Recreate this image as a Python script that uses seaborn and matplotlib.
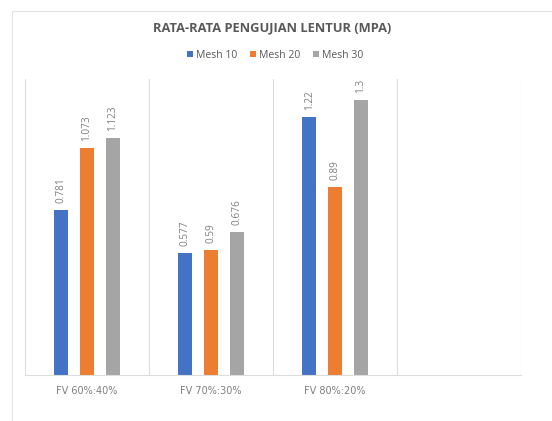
import matplotlib
matplotlib.use("Agg")
import matplotlib.pyplot as plt
from matplotlib.patches import Patch, Rectangle
import seaborn as sns
import pandas as pd

categories = ["FV 60%:40%", "FV 70%:30%", "FV 80%:20%"]
series = ["Mesh 10", "Mesh 20", "Mesh 30"]
mesh10 = [0.781, 0.577, 1.22]
mesh20 = [1.073, 0.59, 0.89]
mesh30 = [1.123, 0.676, 1.3]
label_text = {
    "Mesh 10": ["0.781", "0.577", "1.22"],
    "Mesh 20": ["1.073", "0.59", "0.89"],
    "Mesh 30": ["1.123", "0.676", "1.3"],
}
colors = ["#4472C4", "#ED7D31", "#A5A5A5"]
title = "RATA-RATA PENGUJIAN LENTUR (MPA)"

rows = []
for s, vals in zip(series, [mesh10, mesh20, mesh30]):
    for c, v in zip(categories, vals):
        rows.append({"cat": c, "series": s, "value": v})
df = pd.DataFrame(rows)

sns.set_style("white")
plt.rcParams["font.family"] = ["Open Sans", "DejaVu Sans"]
txt = "#595959"

fig = plt.figure(figsize=(5.52, 4.21), dpi=100)
fig.patch.set_facecolor("white")
# chart area border
fig.add_artist(Rectangle((12 / 552, -0.05), 1.1, 1.05 - 11 / 421,
                         transform=fig.transFigure, fill=False,
                         edgecolor="#E3E3E3", linewidth=0.8))

ax = fig.add_axes([25 / 552, 1 - 375 / 421, (521 - 25) / 552, (375 - 79) / 421])
sns.barplot(data=df, x="cat", y="value", hue="series", order=categories,
            hue_order=series, palette=colors, width=0.62, gap=0.46,
            ax=ax, legend=False, saturation=1, edgecolor="none")

for cont, s in zip(ax.containers, series):
    ax.bar_label(cont, labels=label_text[s], rotation=90, padding=5,
                 fontsize=7.2, color="#7F7F7F")

ax.set_xlim(-0.5, 3.5)
ax.set_ylim(0, 1.4)
ax.set_xlabel("")
ax.set_ylabel("")
ax.set_yticks([])
ax.set_xticks([0, 1, 2])
ax.set_xticklabels(categories, fontsize=7, color="#7F7F7F", family=["DejaVu Sans"])
ax.tick_params(axis="x", length=0, pad=8)
ax.set_xticks([-0.5, 0.5, 1.5, 2.5, 3.5], minor=True)
ax.tick_params(axis="x", which="minor", length=0)
ax.grid(False)
ax.grid(True, which="minor", axis="x", color="#DDDDDD", linewidth=0.8)
for sp in ["top", "left", "right"]:
    ax.spines[sp].set_visible(False)
ax.spines["bottom"].set_color("#DDDDDD")
ax.spines["bottom"].set_linewidth(0.8)

fig.text(272 / 552, 1 - 28 / 421, title, ha="center", va="center",
         fontsize=9.3, fontweight="bold", color=txt)

handles = [Patch(facecolor=c, edgecolor="none", label=s) for c, s in zip(colors, series)]
fig.legend(handles=handles, loc="center", bbox_to_anchor=(275 / 552, 1 - 55 / 421),
           ncol=3, frameon=False, fontsize=7.5, labelcolor=txt,
           handlelength=0.6, handleheight=0.6, handletextpad=0.3, columnspacing=1.2)

fig.savefig("out.png", dpi=100, facecolor="white")
